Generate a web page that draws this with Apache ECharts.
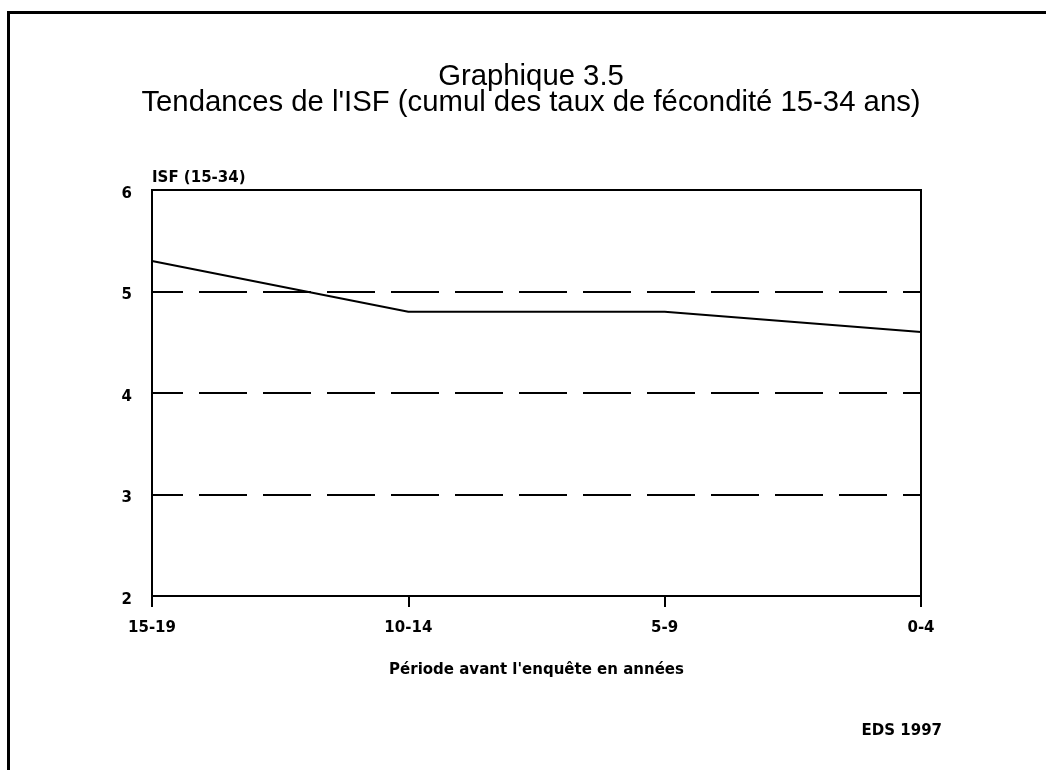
<!DOCTYPE html>
<html>
<head>
<meta charset="utf-8">
<script src="https://cdn.jsdelivr.net/npm/echarts@6/dist/echarts.min.js"></script>
<style>
html,body{margin:0;padding:0;background:#fff;}
#chart{width:1046px;height:770px;}
</style>
</head>
<body>
<div id="chart"></div>
<script>
var titleLines = ['Graphique 3.5', "Tendances de l'ISF (cumul des taux de fécondité 15-34 ans)"];
var categories = ['15-19', '10-14', '5-9', '0-4'];
var isfValues = [5.3, 4.8, 4.8, 4.6];
var yTicks = [2, 3, 4, 5, 6];
var yAxisName = 'ISF (15-34)';
var xAxisName = "Période avant l'enquête en années";
var sourceNote = 'EDS 1997';

var chart = echarts.init(document.getElementById('chart'));
var labelFont = 'DejaVu Sans';
var labelSize = 15;
chart.setOption({
  backgroundColor: '#fff',
  animation: false,
  title: {
    text: titleLines.join('\n'),
    left: 526,
    textAlign: 'center',
    top: 59,
    textStyle: {fontFamily: 'Liberation Sans', fontWeight: 'normal', fontSize: 29.3, lineHeight: 26, color: '#000'}
  },
  graphic: [
    {type: 'rect', shape: {x: 8.5, y: 12.5, width: 1200, height: 900}, style: {fill: 'none', stroke: '#000', lineWidth: 3}, silent: true},
    {type: 'text', right: 104, top: 724, style: {text: sourceNote, font: 'bold ' + labelSize + 'px DejaVu Sans', fill: '#000'}}
  ],
  grid: {left: 152, top: 190, right: 125, bottom: 174, show: true, borderColor: '#000', borderWidth: 2, backgroundColor: 'transparent'},
  xAxis: {
    type: 'category',
    data: categories,
    boundaryGap: false,
    name: xAxisName,
    nameLocation: 'middle',
    nameGap: 67,
    nameTextStyle: {fontFamily: labelFont, fontWeight: 'bold', fontSize: labelSize, color: '#000'},
    axisLine: {lineStyle: {color: '#000', width: 2}},
    axisTick: {show: true, length: 11, alignWithLabel: true, interval: 0, lineStyle: {color: '#000', width: 2}},
    axisLabel: {margin: 25, interval: 0, fontFamily: labelFont, fontWeight: 'bold', fontSize: labelSize, color: '#000'},
    splitLine: {show: false}
  },
  yAxis: {
    type: 'value',
    min: yTicks[0],
    max: yTicks[yTicks.length - 1],
    interval: 1,
    name: yAxisName,
    nameLocation: 'end',
    nameGap: 4,
    nameTextStyle: {fontFamily: labelFont, fontWeight: 'bold', fontSize: labelSize, color: '#000', align: 'left'},
    axisLine: {show: true, lineStyle: {color: '#000', width: 2}},
    axisTick: {show: false},
    axisLabel: {margin: 20, fontFamily: labelFont, fontWeight: 'bold', fontSize: labelSize, color: '#000', verticalAlign: 'top', lineHeight: 8},
    splitLine: {show: true, lineStyle: {color: '#000', width: 2, type: [48, 16], dashOffset: 17}}
  },
  series: [{
    type: 'line',
    data: isfValues,
    symbol: 'none',
    lineStyle: {color: '#000', width: 2},
    silent: true
  }]
});
</script>
</body>
</html>
